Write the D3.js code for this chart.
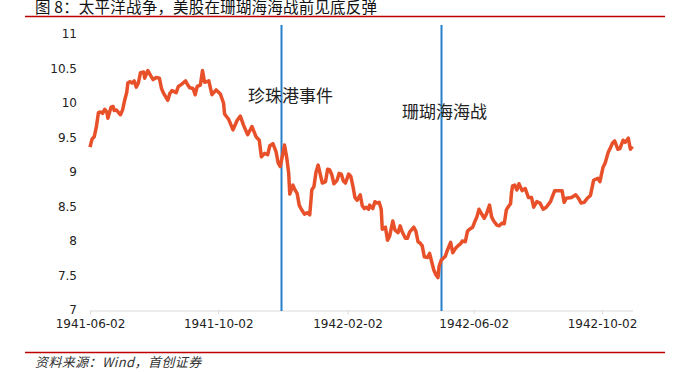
<!DOCTYPE html>
<html>
<head>
<meta charset="utf-8">
<script src="https://cdn.jsdelivr.net/npm/d3@7"></script>
<style>
  body { margin: 0; background: #fff; }
  svg { display: block; }
</style>
</head>
<body>
<div id="div-grafico"></div>
<script>
// chart data
var fechas = [
  "1941-06-02","1941-06-04","1941-06-06","1941-06-08","1941-06-10","1941-06-12","1941-06-14","1941-06-16","1941-06-18","1941-06-19",
  "1941-06-22","1941-06-24","1941-06-25","1941-06-27","1941-07-01","1941-07-03","1941-07-05","1941-07-07","1941-07-08","1941-07-10",
  "1941-07-12","1941-07-14","1941-07-16","1941-07-18","1941-07-20","1941-07-23","1941-07-24","1941-07-27","1941-07-30","1941-08-01",
  "1941-08-04","1941-08-07","1941-08-09","1941-08-11","1941-08-15","1941-08-17","1941-08-19","1941-08-23","1941-08-25","1941-08-28",
  "1941-09-01","1941-09-03","1941-09-05","1941-09-08","1941-09-10","1941-09-12","1941-09-15","1941-09-17","1941-09-19","1941-09-23",
  "1941-09-26","1941-09-30","1941-10-04","1941-10-07","1941-10-08","1941-10-12","1941-10-16","1941-10-20","1941-10-23","1941-10-26",
  "1941-10-30","1941-11-03","1941-11-07","1941-11-10","1941-11-12","1941-11-15","1941-11-18","1941-11-20","1941-11-23","1941-11-26",
  "1941-11-28","1941-11-30","1941-12-04","1941-12-06","1941-12-08","1941-12-09","1941-12-12","1941-12-14","1941-12-16","1941-12-18",
  "1941-12-20","1941-12-23","1941-12-26","1941-12-28","1941-12-30","1942-01-01","1942-01-03","1942-01-05","1942-01-07","1942-01-09",
  "1942-01-12","1942-01-14","1942-01-16","1942-01-18","1942-01-20","1942-01-23","1942-01-25","1942-01-27","1942-01-29","1942-01-31",
  "1942-02-03","1942-02-05","1942-02-07","1942-02-09","1942-02-11","1942-02-14","1942-02-16","1942-02-18","1942-02-20","1942-02-22",
  "1942-02-23","1942-02-26","1942-02-28","1942-03-02","1942-03-04","1942-03-06","1942-03-07","1942-03-10","1942-03-12","1942-03-14",
  "1942-03-17","1942-03-19","1942-03-22","1942-03-24","1942-03-26","1942-03-29","1942-03-31","1942-04-02","1942-04-06","1942-04-08",
  "1942-04-10","1942-04-12","1942-04-14","1942-04-16","1942-04-19","1942-04-21","1942-04-23","1942-04-25","1942-04-27","1942-04-29",
  "1942-04-30","1942-05-02","1942-05-06","1942-05-08","1942-05-11","1942-05-13","1942-05-16","1942-05-18","1942-05-21","1942-05-22",
  "1942-05-25","1942-05-27","1942-05-29","1942-06-01","1942-06-03","1942-06-05","1942-06-07","1942-06-10","1942-06-12","1942-06-14",
  "1942-06-17","1942-06-19","1942-06-21","1942-06-24","1942-06-26","1942-06-29","1942-07-01","1942-07-03","1942-07-05","1942-07-07",
  "1942-07-08","1942-07-09","1942-07-11","1942-07-13","1942-07-15","1942-07-18","1942-07-21","1942-07-24","1942-07-27","1942-07-29",
  "1942-08-01","1942-08-04","1942-08-07","1942-08-10","1942-08-14","1942-08-18","1942-08-21","1942-08-25","1942-08-27","1942-08-29",
  "1942-09-03","1942-09-07","1942-09-10","1942-09-12","1942-09-15","1942-09-18","1942-09-21","1942-09-24","1942-09-28","1942-09-30",
  "1942-10-03","1942-10-05","1942-10-08","1942-10-10","1942-10-12","1942-10-14","1942-10-17","1942-10-19","1942-10-22","1942-10-24",
  "1942-10-27","1942-10-29","1942-10-31"
];
var valores = [
  9.36,9.48,9.51,9.65,9.86,9.87,9.85,9.91,9.87,9.78,
  9.94,9.95,9.89,9.90,9.83,9.90,10.04,10.16,10.29,10.31,
  10.29,10.32,10.23,10.29,10.44,10.45,10.36,10.47,10.39,10.34,
  10.37,10.36,10.21,10.14,10.04,10.14,10.18,10.15,10.24,10.27,
  10.32,10.26,10.22,10.21,10.12,10.24,10.26,10.47,10.30,10.32,
  10.12,10.19,10.13,10.00,9.84,9.76,9.61,9.75,9.81,9.68,
  9.54,9.66,9.51,9.46,9.22,9.27,9.25,9.38,9.41,9.29,
  9.13,9.08,9.39,9.22,8.98,8.68,8.81,8.74,8.69,8.52,
  8.46,8.39,8.41,8.38,8.74,8.79,9.00,9.10,8.97,8.84,
  8.86,9.04,9.03,8.96,8.83,8.88,8.98,8.97,8.87,8.84,
  8.97,8.94,8.80,8.63,8.59,8.67,8.51,8.47,8.49,8.46,
  8.52,8.47,8.57,8.55,8.56,8.46,8.17,8.20,8.01,8.07,
  8.29,8.16,8.12,8.22,8.13,8.04,8.04,8.13,8.20,8.14,
  7.99,7.97,7.93,7.77,7.76,7.82,7.70,7.58,7.51,7.47,
  7.63,7.72,7.78,7.87,7.98,7.83,7.90,7.93,7.97,8.00,
  7.99,8.14,8.17,8.20,8.28,8.35,8.46,8.38,8.33,8.39,
  8.52,8.35,8.29,8.23,8.22,8.26,8.25,8.45,8.50,8.54,
  8.71,8.80,8.81,8.74,8.83,8.73,8.76,8.63,8.63,8.49,
  8.57,8.55,8.46,8.49,8.57,8.73,8.73,8.73,8.56,8.62,
  8.63,8.67,8.61,8.55,8.56,8.62,8.66,8.88,8.91,8.86,
  9.07,9.13,9.29,9.35,9.42,9.45,9.33,9.34,9.46,9.43,
  9.49,9.33,9.37
];
var yTicks = [7, 7.5, 8, 8.5, 9, 9.5, 10, 10.5, 11];
var xTicks = ["1941-06-02", "1941-10-02", "1942-02-02", "1942-06-02", "1942-10-02"];
var eventos = ["珍珠港事件", "珊瑚海海战"];
var eventosFecha = ["1941-12-01", "1942-05-02"];
var titulo = "图 8：太平洋战争，美股在珊瑚海海战前见底反弹";
var fuente = "资料来源：Wind，首创证券";

var W = 674, H = 372;
var parseTime = d3.timeParse("%Y-%m-%d");
var fmt = d3.timeFormat("%Y-%m-%d");
var tickFont = "'DejaVu Sans', sans-serif";

var data = fechas.map(function (f, i) {
  return { date: parseTime(f), close: valores[i] };
});

var svg = d3.select("#div-grafico").append("svg")
  .attr("width", W)
  .attr("height", H)
  .style("font-family", "'Noto Sans CJK SC', 'Noto Sans', sans-serif");

// scales
var x = d3.scaleTime()
  .domain(d3.extent(data, function (d) { return d.date; }))
  .range([90, 632.5]);
var y = d3.scaleLinear().domain([7, 11]).range([310, 34]);

// title + red rules
svg.append("text")
  .attr("x", 35).attr("y", 13)
  .attr("font-size", 15.5)
  .attr("letter-spacing", 0.2)
  .attr("fill", "#111")
  .text(titulo);
svg.append("line")
  .attr("x1", 25).attr("x2", 665).attr("y1", 16.5).attr("y2", 16.5)
  .attr("stroke", "#c00000").attr("stroke-width", 1.5);
svg.append("line")
  .attr("x1", 25).attr("x2", 665).attr("y1", 352.5).attr("y2", 352.5)
  .attr("stroke", "#c00000").attr("stroke-width", 1.5);
svg.append("text")
  .attr("x", 35).attr("y", 367)
  .attr("font-size", 13)
  .attr("font-style", "italic")
  .attr("letter-spacing", 0.4)
  .attr("fill", "#333")
  .text(fuente);

// Y axis (labels only)
var gy = svg.append("g")
  .attr("transform", "translate(79,0)")
  .call(d3.axisLeft(y).tickValues(yTicks).tickSize(0).tickPadding(2)
    .tickFormat(function (d) { return d; }));
gy.select(".domain").remove();
gy.selectAll("text").attr("font-size", 12).attr("fill", "#222")
  .style("font-family", tickFont);

// X axis
var gx = svg.append("g")
  .attr("transform", "translate(0,310.5)")
  .call(d3.axisBottom(x).tickValues(xTicks.map(parseTime)).tickFormat(fmt)
    .tickSize(4).tickSizeOuter(0).tickPadding(5));
gx.select(".domain").attr("stroke", "#d9d9d9");
gx.selectAll(".tick line").attr("stroke", "#d9d9d9");
gx.selectAll("text").attr("font-size", 12).attr("fill", "#222")
  .style("font-family", tickFont);

// event lines
svg.selectAll(".evento")
  .data(eventosFecha)
  .enter().append("line")
  .attr("class", "evento")
  .attr("x1", function (d) { return Math.round(x(parseTime(d))) + 0.5; })
  .attr("x2", function (d) { return Math.round(x(parseTime(d))) + 0.5; })
  .attr("y1", 25).attr("y2", 311)
  .attr("stroke", "#2680c8").attr("stroke-width", 2);

// the series
var valueline = d3.line()
  .x(function (d) { return x(d.date); })
  .y(function (d) { return y(d.close); });
svg.append("path")
  .data([data])
  .attr("fill", "none")
  .attr("stroke", "#e8502a")
  .attr("stroke-width", 3.5)
  .attr("stroke-linejoin", "round")
  .attr("d", valueline);

// event labels
svg.append("text")
  .attr("x", 248).attr("y", 102)
  .attr("font-size", 17).attr("fill", "#222")
  .text(eventos[0]);
svg.append("text")
  .attr("x", 402).attr("y", 118)
  .attr("font-size", 17).attr("fill", "#222")
  .text(eventos[1]);
</script>
</body>
</html>
